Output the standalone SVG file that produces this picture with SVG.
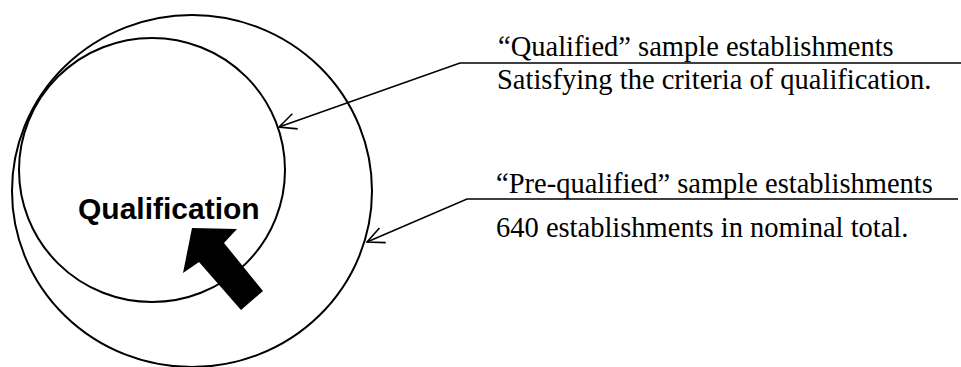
<svg xmlns="http://www.w3.org/2000/svg" width="961" height="367" viewBox="0 0 961 367">
<style>
.ring{fill:none;stroke:#000;stroke-width:2}
.conn{fill:none;stroke:#000;stroke-width:1.6}
.lab{font-family:"Liberation Serif","Times New Roman",serif;font-size:28.5px;fill:#000}
.big{font-family:"Liberation Sans",Arial,sans-serif;font-size:30px;font-weight:bold;fill:#000}
</style>
<defs>
<marker id="vee" viewBox="0 0 22 22" refX="21" refY="11" markerWidth="22" markerHeight="22" markerUnits="userSpaceOnUse" orient="auto">
<path d="M4,3 L21,11 L4,19" fill="none" stroke="#000" stroke-width="1.6"/>
</marker>
</defs>
<rect width="961" height="367" fill="#fff"/>
<g id="outer">
<ellipse class="ring" cx="192" cy="191" rx="180" ry="176"/>
</g>
<g id="inner">
<ellipse class="ring" cx="152" cy="170" rx="133" ry="132"/>
<text class="big" x="78" y="219">Qualification</text>
</g>
<g id="big-arrow">
<polygon points="192,228 237,229 224,243 263,291 241,310 199,262 183,273" fill="#000"/>
</g>
<g id="label-qualified">
<text class="lab" x="498" y="56">“Qualified” sample establishments</text>
<text class="lab" x="497" y="89">Satisfying the criteria of qualification.</text>
</g>
<g id="label-prequalified">
<text class="lab" x="496" y="193">“Pre-qualified” sample establishments</text>
<text class="lab" x="496" y="237">640 establishments in nominal total.</text>
</g>
<g id="connectors">
<polyline class="conn" points="961,63 460,63 279,127" marker-end="url(#vee)"/>
<polyline class="conn" points="958,199 467,199 367,242" marker-end="url(#vee)"/>
</g>
</svg>
